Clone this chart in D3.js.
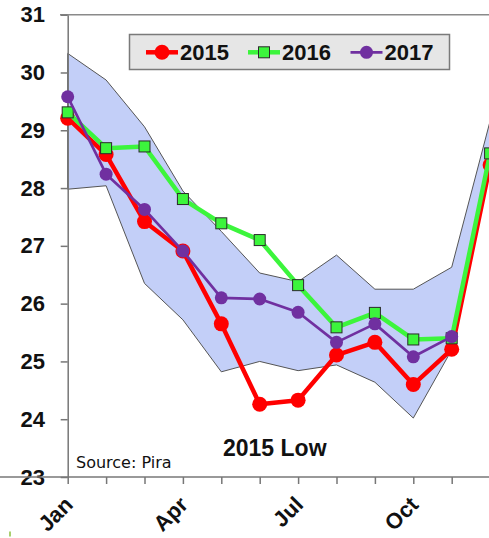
<!DOCTYPE html>
<html>
<head>
<meta charset="utf-8">
<script src="https://cdn.jsdelivr.net/npm/d3@7"></script>
<style>
  body { margin: 0; background: #fff; }
  svg { display: block; font-family: "Liberation Sans", Arial, sans-serif; }
</style>
</head>
<body>
<svg width="489" height="538"></svg>
<script>
// monthly values
var months = ["Jan","Feb","Mar","Apr","May","Jun","Jul","Aug","Sep","Oct","Nov","Dec"];
var shownMonths = ["Jan","Apr","Jul","Oct"];
var yTicks = [23,24,25,26,27,28,29,30,31];

var s2015 = [29.21, 28.58, 27.42, 26.91, 25.65, 24.26, 24.33, 25.11, 25.33, 24.60, 25.21, 28.40];
var s2016 = [29.31, 28.69, 28.72, 27.81, 27.39, 27.10, 26.32, 25.59, 25.84, 25.38, 25.40, 28.60];
var s2017 = [29.58, 28.24, 27.63, 26.91, 26.10, 26.08, 25.85, 25.33, 25.65, 25.08, 25.43];
var bandHigh = [30.33, 29.87, 29.06, 27.95, 27.25, 26.53, 26.38, 26.84, 26.25, 26.25, 26.63, 29.16];
var bandLow  = [27.98, 28.04, 26.35, 25.72, 24.82, 25.00, 24.84, 24.94, 24.64, 24.02, 25.20, 28.40];

var seriesNames = ["2015","2016","2017"];
var seriesData = [s2015, s2016, s2017];

var svg = d3.select("svg");

var x = d3.scalePoint().domain(months).range([67.7, 490.1]);
var y = d3.scaleLinear().domain([23, 31]).range([477, 14.7]);

// band
var area = d3.area()
  .x(function(d, i) { return x(months[i]); })
  .y0(function(d, i) { return y(bandLow[i]); })
  .y1(function(d) { return y(d); });

svg.append("path")
  .datum(bandHigh)
  .attr("d", area)
  .attr("fill", "#c3cff8")
  .attr("stroke", "#555")
  .attr("stroke-width", 1);

// frame lines
svg.append("line")
  .attr("x1", 60).attr("x2", 489)
  .attr("y1", y(31)).attr("y2", y(31))
  .attr("stroke", "#8a8a8a").attr("stroke-width", 1.5);

var axisLeft = d3.axisLeft(y).tickValues(yTicks).tickSize(7).tickSizeOuter(0)
  .tickPadding(15.7).tickFormat(d3.format("d"));
var gy = svg.append("g")
  .attr("transform", "translate(" + x("Jan") + ",0)")
  .call(axisLeft);
gy.selectAll("path, line").attr("stroke", "#777").attr("stroke-width", 1.5);
gy.selectAll("text").attr("font-size", 22).attr("font-weight", "bold")
  .attr("fill", "#111").attr("font-family", "Liberation Sans, Arial, sans-serif");

var axisBottom = d3.axisBottom(x).tickSize(7).tickSizeOuter(0)
  .tickFormat(function(d) { return shownMonths.indexOf(d) >= 0 ? d : ""; });
var gx = svg.append("g")
  .attr("transform", "translate(0," + y(23) + ")")
  .call(axisBottom);
gx.select(".domain").attr("d", "M-8,0H489");
gx.selectAll("path, line").attr("stroke", "#777").attr("stroke-width", 1.5);
gx.selectAll("text")
  .attr("x", 0).attr("y", 0).attr("dy", 0)
  .attr("text-anchor", "end")
  .attr("transform", "translate(6,29) rotate(-45)")
  .attr("font-size", 22).attr("font-weight", "bold")
  .attr("fill", "#111").attr("font-family", "Liberation Sans, Arial, sans-serif");

// series
var colors = ["#ff0000", "#3cf53c", "#7030a0"];
var widths = [4.5, 4.5, 2.7];

seriesData.forEach(function(data, k) {
  var line = d3.line()
    .x(function(d, i) { return x(months[i]); })
    .y(function(d) { return y(d); });
  svg.append("path")
    .datum(data)
    .attr("d", line)
    .attr("fill", "none")
    .attr("stroke", colors[k])
    .attr("stroke-width", widths[k])
    .attr("stroke-linejoin", "round");

  if (k == 1) {
    svg.selectAll(".sq")
      .data(data)
      .enter()
      .append("rect")
      .attr("x", function(d, i) { return x(months[i]) - 5.5; })
      .attr("y", function(d) { return y(d) - 5.5; })
      .attr("width", 11).attr("height", 11)
      .attr("fill", "#3cf53c")
      .attr("stroke", "#2a2a2a")
      .attr("stroke-width", 1);
  } else {
    svg.append("g").selectAll("circle")
      .data(data)
      .enter()
      .append("circle")
      .attr("cx", function(d, i) { return x(months[i]); })
      .attr("cy", function(d) { return y(d); })
      .attr("r", k == 0 ? 7.5 : 6.5)
      .attr("fill", colors[k]);
  }
});

// legend
var legend = svg.append("g");
legend.append("rect")
  .attr("x", 129.5).attr("y", 34.5)
  .attr("width", 320).attr("height", 35)
  .attr("fill", "#e6e6e6")
  .attr("stroke", "#7a7a7a").attr("stroke-width", 1.5);

var legX = [146, 248, 350.5];
seriesNames.forEach(function(name, k) {
  var lx = legX[k], ly = 52.3;
  legend.append("line")
    .attr("x1", lx).attr("x2", lx + 32)
    .attr("y1", ly).attr("y2", ly)
    .attr("stroke", colors[k]).attr("stroke-width", widths[k]);
  if (k == 1) {
    legend.append("rect")
      .attr("x", lx + 16 - 5.5).attr("y", ly - 5.5)
      .attr("width", 11).attr("height", 11)
      .attr("fill", colors[k]).attr("stroke", "#2a2a2a").attr("stroke-width", 1);
  } else {
    legend.append("circle")
      .attr("cx", lx + 16).attr("cy", ly)
      .attr("r", k == 0 ? 7.5 : 6.5)
      .attr("fill", colors[k]);
  }
  legend.append("text")
    .attr("x", lx + 34).attr("y", 59.5)
    .attr("font-size", 22).attr("font-weight", "bold")
    .attr("fill", "#111")
    .text(name);
});

// notes
svg.append("text")
  .attr("x", 223).attr("y", 455.7)
  .attr("font-size", 23).attr("font-weight", "bold")
  .attr("fill", "#111")
  .text("2015 Low");

svg.append("text")
  .attr("x", 76).attr("y", 468.3)
  .attr("font-size", 16)
  .attr("font-family", "DejaVu Sans, Verdana, sans-serif")
  .attr("fill", "#111")
  .text("Source: Pira");

svg.append("line")
  .attr("x1", 10).attr("x2", 10)
  .attr("y1", 531.5).attr("y2", 536.5)
  .attr("stroke", "#8cbf3f").attr("stroke-width", 1.5);
</script>
</body>
</html>
